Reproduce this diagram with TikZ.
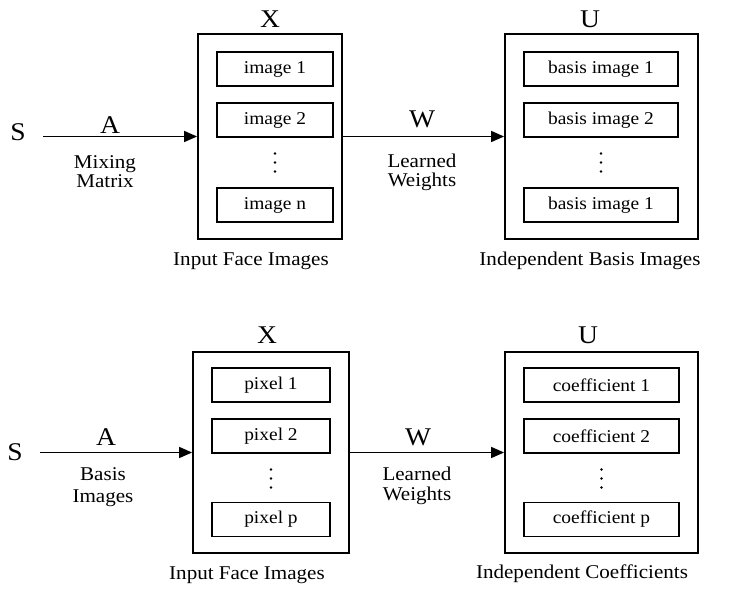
\documentclass[tikz,border=0pt]{standalone}
\usepackage{fontspec}
\setmainfont{Liberation Serif}[FakeStretch=1.08]
\usetikzlibrary{arrows.meta}
\tikzset{
  big/.style={font=\fontsize{25.5}{30}\selectfont, inner sep=0pt, anchor=base},
  lbl/.style={font=\fontsize{19.5}{22}\selectfont, inner sep=0pt, anchor=base},
  outerbox/.style={draw, line width=1.8pt, inner sep=0pt},
  innerbox/.style={draw, line width=1.5pt, inner sep=0pt, minimum height=34pt, font=\fontsize{18}{20}\selectfont},
  arr/.style={line width=1.5pt, -{Triangle[length=13pt,width=11pt]}},
  dot/.style={fill, radius=1.4pt}
}
\begin{document}
\begin{tikzpicture}[x=1pt,y=-1pt]
\useasboundingbox (0,0) rectangle (740,608);
% ---------- top panel ----------
\node[outerbox, minimum width=144pt, minimum height=205pt] (X1) at (270,136.5) {};
\node[outerbox, minimum width=193pt, minimum height=205pt] (U1) at (601.5,136.5) {};
\node[innerbox, minimum width=116pt] (x11) at (275,69) {image 1};
\node[innerbox, minimum width=116pt] (x12) at (275,120) {image 2};
\node[innerbox, minimum width=116pt] (x1n) at (275,205) {image n};
\node[innerbox, minimum width=154pt] (u11) at (601,69) {basis image 1};
\node[innerbox, minimum width=154pt] (u12) at (601,120) {basis image 2};
\node[innerbox, minimum width=154pt] (u1n) at (601,205) {basis image 1};
\foreach \yy in {153.5,162.5,171.5} {\fill (275,\yy) circle[radius=1.4pt]; \fill (601,\yy) circle[radius=1.4pt];}
\node[big] (XL1) at (270,27) {X};
\node[big] (UL1) at (590,27) {U};
\node[big] (S1) at (18,140) {S};
\coordinate (s1) at (43,136.5);
\draw[arr] (s1) -- (X1.west);
\draw[arr] (X1.east) -- (U1.west);
\node[big] (A1) at (110,133) {A};
\node[lbl] (m1) at (105,168) {Mixing};
\node[lbl] (m2) at (105,187) {Matrix};
\node[big] (W1) at (422,127) {W};
\node[lbl] (w1) at (422,167) {Learned};
\node[lbl] (w2) at (422,186) {Weights};
\node[lbl] (c1) at (251,265) {Input Face Images};
\node[lbl] (c2) at (590,265) {Independent Basis Images};
% ---------- bottom panel ----------
\node[outerbox, minimum width=156pt, minimum height=201pt] (X2) at (271,452.5) {};
\node[outerbox, minimum width=193pt, minimum height=201pt] (U2) at (601.5,452.5) {};
\node[innerbox, minimum width=118pt] (x21) at (271,385) {pixel 1};
\node[innerbox, minimum width=118pt] (x22) at (271,436) {pixel 2};
\node[innerbox, minimum width=118pt] (x2p) at (271,519.5) {pixel p};
\node[innerbox, minimum width=155pt] (u21) at (601.5,385) {coefficient 1};
\node[innerbox, minimum width=155pt] (u22) at (601.5,436) {coefficient 2};
\node[innerbox, minimum width=155pt] (u2p) at (601.5,519.5) {coefficient p};
\foreach \yy in {469.5,478.5,487.5} {\fill (271,\yy) circle[radius=1.4pt]; \fill (601.5,\yy) circle[radius=1.4pt];}
\node[big] (XL2) at (267,343) {X};
\node[big] (UL2) at (588,343) {U};
\node[big] (S2) at (15,460) {S};
\coordinate (s2) at (40,452.5);
\draw[arr] (s2) -- (X2.west);
\draw[arr] (X2.east) -- (U2.west);
\node[big] (A2) at (106,445) {A};
\node[lbl] (b1) at (103,480) {Basis};
\node[lbl] (b2) at (103,502) {Images};
\node[big] (W2) at (418,445) {W};
\node[lbl] (w3) at (417,480) {Learned};
\node[lbl] (w4) at (417,500) {Weights};
\node[lbl] (c3) at (247,579) {Input Face Images};
\node[lbl] (c4) at (582,578) {Independent Coefficients};
\end{tikzpicture}
\end{document}
